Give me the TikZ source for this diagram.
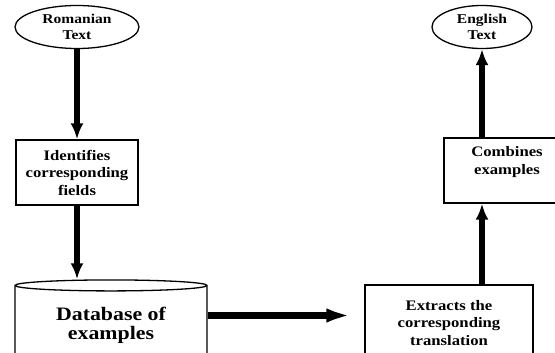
\documentclass[tikz,border=0pt]{standalone}
\usepackage{fontspec}
\setmainfont{Liberation Serif}[FakeStretch=1.15]
\usetikzlibrary{shapes.geometric,arrows.meta}

\begin{document}
\begin{tikzpicture}[x=1pt,y=-1pt]
\tikzstyle{texte} = [draw, ellipse, line width=1.3pt, inner sep=0pt, minimum height=43pt, align=center, font=\bfseries\fontsize{13.5}{15.5}\selectfont];
\tikzstyle{boite} = [draw, rectangle, line width=1.3pt, inner sep=0pt, align=center, font=\bfseries\fontsize{14.5}{17.5}\selectfont];
\tikzstyle{base} = [draw, cylinder, shape border rotate=90, aspect=0.1, line width=1.3pt, inner sep=0pt, align=center, font=\bfseries\fontsize{19}{19.5}\selectfont];
\tikzstyle{fleche} = [line width=6.5pt, -{Latex[length=16pt,width=13pt]}];
\clip (0,0) rectangle (555,353);

\node[texte, minimum width=124pt] (ro) at (77,27) {Romanian\\Text};
\node[boite, minimum width=122pt, minimum height=65pt] (id) at (77,172.5) {Identifies\\corresponding\\fields};
\node[base, minimum width=192pt, minimum height=85pt] (db) at (111,325.5) {Database of\\examples};
\node[boite, minimum width=168pt, minimum height=76pt] (ext) at (449,323) {Extracts the\\corresponding\\translation};
\node[boite, minimum width=126pt, minimum height=65pt, text depth=20pt] (comb) at (507,170.5) {Combines\\examples};
\node[texte, minimum width=100pt] (en) at (482,27) {English\\Text};

\draw[fleche] (ro) -- (id);
\draw[fleche] (id.south) -- (id.south |- db.north);
\draw[fleche, -{Latex[length=38pt,width=13pt]}] ([yshift=10pt]db.east) -- ([yshift=10pt]db.east -| ext.west);
\draw[fleche] (ext.north -| en) -- (comb.south -| en);
\draw[fleche] (comb.north -| en) -- (en.south);
\end{tikzpicture}
\end{document}
